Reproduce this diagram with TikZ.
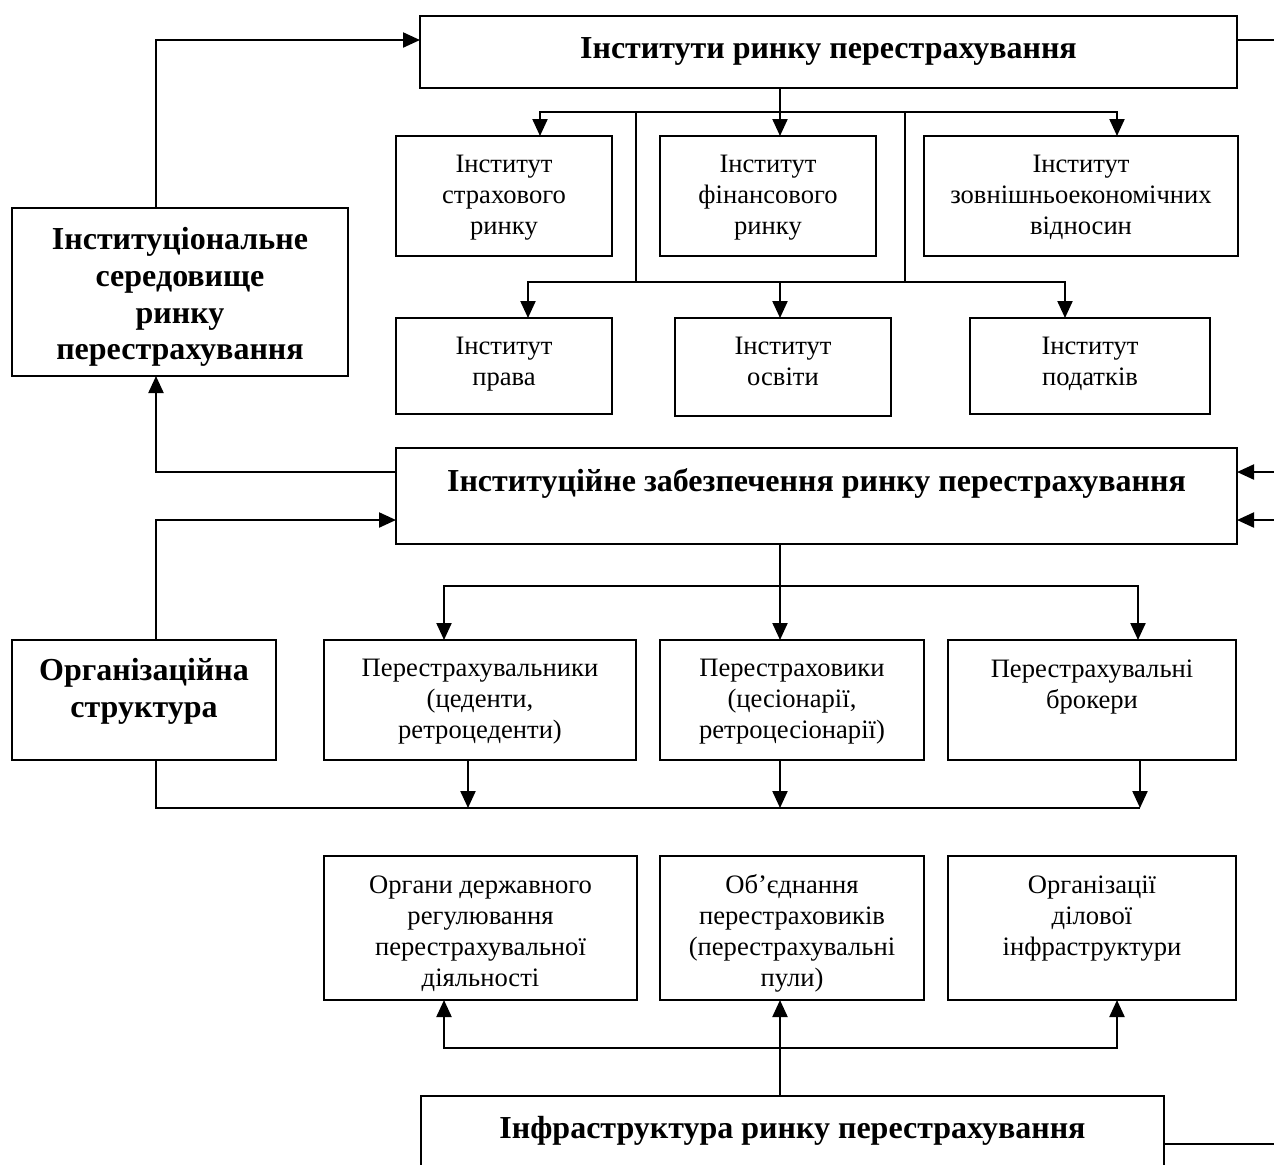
\documentclass[tikz,border=0pt]{standalone}
\usepackage{fontspec}
\setmainfont{Liberation Serif}
\usetikzlibrary{arrows.meta}
\begin{document}
\begin{tikzpicture}[x=0.5pt,y=-0.5pt,
 box/.style={draw,line width=1pt,inner sep=0pt,outer sep=0pt},
 lbl/.style={anchor=north,align=center,inner sep=0pt,font=\fontsize{13.3}{15.5}\selectfont},
 ttl/.style={anchor=north,align=center,inner sep=0pt,font=\fontsize{16}{18.4}\selectfont\bfseries},
 big/.style={anchor=north,align=center,inner sep=0pt,font=\fontsize{16}{18.35}\selectfont\bfseries},
 ln/.style={line width=1.1pt},
 arr/.style={line width=1.1pt,-{Triangle[width=7.5pt,length=8.5pt]}}]
\useasboundingbox (0,0) rectangle (1274,1164);
\clip (0,0) rectangle (1274,1164);
\fill[white] (0,0) rectangle (1274,1164);

% boxes
\node[box,minimum width=408.5pt,minimum height=36pt] (top) at (828.5,52) {};
\node[box,minimum width=168pt,minimum height=84pt] (env) at (180,292) {};
\node[box,minimum width=108pt,minimum height=60pt] (r1a) at (504,196) {};
\node[box,minimum width=108pt,minimum height=60pt] (r1b) at (768,196) {};
\node[box,minimum width=157pt,minimum height=60pt] (r1c) at (1081,196) {};
\node[box,minimum width=108pt,minimum height=48pt] (r2a) at (504,366) {};
\node[box,minimum width=108pt,minimum height=49pt] (r2b) at (783,367) {};
\node[box,minimum width=120pt,minimum height=48pt] (r2c) at (1090,366) {};
\node[box,minimum width=420.5pt,minimum height=48pt] (mid) at (816.5,496) {};
\node[box,minimum width=132pt,minimum height=60pt] (org) at (144,700) {};
\node[box,minimum width=156pt,minimum height=60pt] (r4a) at (480,700) {};
\node[box,minimum width=132pt,minimum height=60pt] (r4b) at (792,700) {};
\node[box,minimum width=144pt,minimum height=60pt] (r4c) at (1092,700) {};
\node[box,minimum width=156.5pt,minimum height=72pt] (r5a) at (480.5,928) {};
\node[box,minimum width=132pt,minimum height=72pt] (r5b) at (792,928) {};
\node[box,minimum width=144pt,minimum height=72pt] (r5c) at (1092,928) {};
\node[box,minimum width=371.5pt,minimum height=52pt] (bot) at (792.5,1148) {};

% texts
\node[ttl] (ttop) at ([yshift=-10.5pt]top.north) {Інститути ринку перестрахування};
\node[ttl] (tmid) at ([yshift=-10pt]mid.north) {Інституційне забезпечення ринку перестрахування};
\node[ttl] (tbot) at ([yshift=-10pt]bot.north) {Інфраструктура ринку перестрахування};
\node[big] (tenv) at ([yshift=-9.5pt]env.north) {Інституціональне\\середовище\\ринку\\перестрахування};
\node[big] (torg) at ([yshift=-9pt]org.north) {Організаційна\\структура};
\node[lbl] (tr1a) at ([yshift=-9.5pt]r1a.north) {Інститут\\страхового\\ринку};
\node[lbl] (tr1b) at ([yshift=-9.5pt]r1b.north) {Інститут\\фінансового\\ринку};
\node[lbl] (tr1c) at ([yshift=-9.5pt]r1c.north) {Інститут\\зовнішньоекономічних\\відносин};
\node[lbl] (tr2a) at ([yshift=-9.5pt]r2a.north) {Інститут\\права};
\node[lbl] (tr2b) at ([yshift=-9.5pt]r2b.north) {Інститут\\освіти};
\node[lbl] (tr2c) at ([yshift=-9.5pt]r2c.north) {Інститут\\податків};
\node[lbl] (tr4a) at ([yshift=-9.5pt]r4a.north) {Перестрахувальники\\(цеденти,\\ретроцеденти)};
\node[lbl] (tr4b) at ([yshift=-9.5pt]r4b.north) {Перестраховики\\(цесіонарії,\\ретроцесіонарії)};
\node[lbl] (tr4c) at ([yshift=-9.5pt]r4c.north) {Перестрахувальні\\брокери};
\node[lbl] (tr5a) at ([yshift=-9.5pt]r5a.north) {Органи державного\\регулювання\\перестрахувальної\\діяльності};
\node[lbl] (tr5b) at ([yshift=-8.8pt]r5b.north) {Об’єднання\\перестраховиків\\(перестрахувальні\\пули)};
\node[lbl] (tr5c) at ([yshift=-9.5pt]r5c.north) {Організації\\ділової\\інфраструктури};

% junction coordinates
\coordinate (x780) at (780,0);
\coordinate (t1) at (540,112);
\coordinate (t2) at (1117,112);
\coordinate (v1t) at (636,112);
\coordinate (v2t) at (905,112);
\coordinate (v1b) at (636,282);
\coordinate (v2b) at (905,282);
\coordinate (b1) at (528,282);
\coordinate (b2) at (780,282);
\coordinate (b3) at (1065,282);
\coordinate (h1) at (444,586);
\coordinate (h2) at (780,586);
\coordinate (h3) at (1138,586);
\coordinate (g0) at (156,808);
\coordinate (g1) at (468,808);
\coordinate (g2) at (780,808);
\coordinate (g3) at (1140,808);
\coordinate (k1) at (444,1048);
\coordinate (k2) at (780,1048);
\coordinate (k3) at (1117,1048);
\coordinate (rout1) at (1274,40);
\coordinate (rin1) at (1274,472);
\coordinate (rin2) at (1274,520);
\coordinate (rout2) at (1274,1144);

% top tree
\draw[arr] (top.south -| x780) -- (r1b.north -| x780);
\draw[ln] (v1t) -- (v2t);
\draw[arr] (v1t) -- (t1) -- (r1a.north -| t1);
\draw[arr] (v2t) -- (t2) -- (r1c.north -| t2);
\draw[ln] (v1t) -- (v1b);
\draw[ln] (v2t) -- (v2b);
\draw[ln] (v1b) -- (v2b);
\draw[arr] (v1b) -- (b1) -- (r2a.north -| b1);
\draw[arr] (b2) -- (r2b.north -| b2);
\draw[arr] (v2b) -- (b3) -- (r2c.north -| b3);

% left side loops
\draw[arr] ([xshift=-12pt]env.north) |- ([yshift=6pt]top.west);
\draw[arr] ([yshift=12pt]mid.west) -| ([xshift=-12pt]env.south);
\draw[arr] ([xshift=6pt]org.north) |- ([yshift=-12pt]mid.west);

% right edge lines
\draw[ln] (top.east |- rout1) -- (rout1);
\draw[arr] (rin1) -- (mid.east |- rin1);
\draw[arr] (rin2) -- (mid.east |- rin2);
\draw[ln] (bot.east |- rout2) -- (rout2);

% middle tree
\draw[ln] (mid.south -| h2) -- (h2);
\draw[arr] (h2) -- (r4b.north -| h2);
\draw[arr] (h2) -- (h1) -- (r4a.north -| h1);
\draw[arr] (h2) -- (h3) -- (r4c.north -| h3);

% collector line
\draw[ln] ([xshift=6pt]org.south) -- (g0) -- (g3);
\draw[arr] (r4a.south -| g1) -- (g1);
\draw[arr] (r4b.south -| g2) -- (g2);
\draw[arr] (r4c.south -| g3) -- (g3);

% bottom tree
\draw[ln] (bot.north -| k2) -- (k2);
\draw[arr] (k2) -- (r5b.south -| k2);
\draw[arr] (k2) -- (k1) -- (r5a.south -| k1);
\draw[arr] (k2) -- (k3) -- (r5c.south -| k3);
\end{tikzpicture}
\end{document}
